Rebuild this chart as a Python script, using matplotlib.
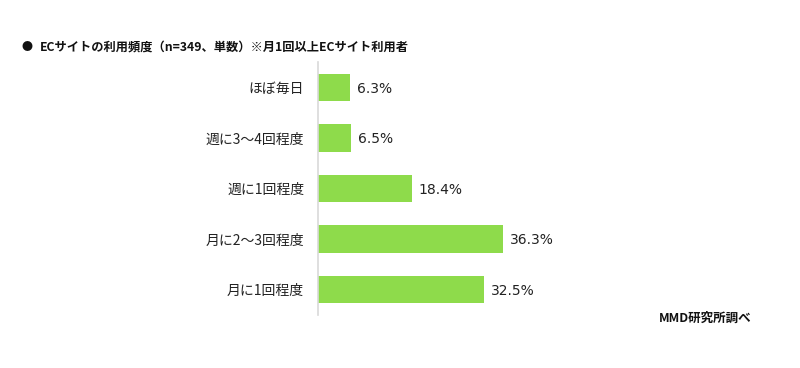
import matplotlib
matplotlib.use("Agg")
import matplotlib.pyplot as plt

plt.rcParams['font.family'] = ['Noto Sans CJK JP', 'DejaVu Sans']

categories = ["ほぼ毎日", "週に3〜4回程度", "週に1回程度", "月に2〜3回程度", "月に1回程度"]
values = [6.3, 6.5, 18.4, 36.3, 32.5]
value_labels = ["6.3%", "6.5%", "18.4%", "36.3%", "32.5%"]
title = "ECサイトの利用頻度（n=349、単数）※月1回以上ECサイト利用者"
source = "MMD研究所調べ"

fig = plt.figure(figsize=(8, 3.68), dpi=100)
ax = fig.add_axes([318/800, 53/368, 306/800, 253/368])
y = list(range(len(categories)))
ax.barh(y, values, height=0.54, color="#8EDB4B")
ax.set_ylim(len(categories) - 0.5, -0.5)
ax.set_xlim(0, 60)
ax.set_yticks(y)
ax.set_yticklabels(categories, fontsize=10, color="#222222")
ax.tick_params(axis='y', length=0, pad=10)
ax.set_xticks([])
for s in ['top', 'right', 'bottom']:
    ax.spines[s].set_visible(False)
ax.spines['left'].set_color("#d9d9d9")
ax.spines['left'].set_linewidth(1.2)
for yi, v, lab in zip(y, values, value_labels):
    ax.annotate(lab, (v, yi), xytext=(5, -1), textcoords="offset points",
                va="center", ha="left", fontsize=10, color="#222222",
                family="DejaVu Sans")

fig.text(21/800, 1 - 47/368, "●", fontsize=8, va="center", ha="left", color="#111111")
fig.text(40/800, 1 - 47/368, title, fontsize=8.8, fontweight="bold", va="center", ha="left", color="#111111")
fig.text(752/800, 1 - 318/368, source, fontsize=9, fontweight="bold", va="center", ha="right", color="#111111")

fig.savefig("out.png", dpi=100)
